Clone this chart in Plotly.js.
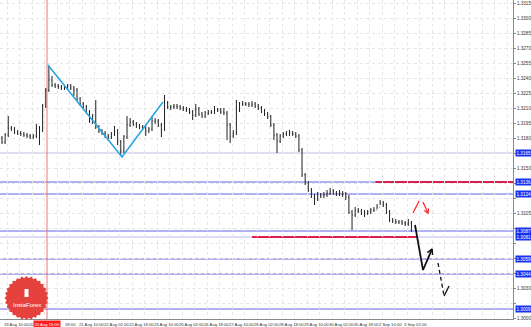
<!DOCTYPE html>
<html><head><meta charset="utf-8">
<script src="https://cdn.plot.ly/plotly-3.0.1.min.js"></script>
<style>html,body{margin:0;padding:0;background:#fff;}#chart{width:531px;height:327px;}</style>
</head><body><div id="chart"></div>
<script>
// ---- data (H1 chart, one bar kept every 2 hours) ----
const barOpen = [1.3180,1.3176,1.3183,1.3190,1.3189,1.3186,1.3185,1.3184,1.3183,1.3182,
1.3181,1.3182,1.3190,1.3188,1.3212,1.3228,1.3238,1.3233,1.3232,1.3231,
1.3230,1.3230,1.3232,1.3230,1.3228,1.3219,1.3214,1.3211,1.3206,1.3197,
1.3197,1.3191,1.3187,1.3185,1.3182,1.3181,1.3184,1.3187,1.3176,1.3167,
1.3181,1.3193,1.3196,1.3194,1.3192,1.3191,1.3190,1.3187,1.3189,1.3197,
1.3197,1.3193,1.3189,1.3215,1.3211,1.3211,1.3212,1.3211,1.3210,1.3209,
1.3208,1.3206,1.3203,1.3209,1.3204,1.3202,1.3205,1.3206,1.3206,1.3208,
1.3208,1.3206,1.3205,1.3193,1.3182,1.3185,1.3208,1.3214,1.3214,1.3214,
1.3213,1.3214,1.3212,1.3210,1.3207,1.3204,1.3201,1.3193,1.3183,1.3177,
1.3182,1.3184,1.3185,1.3185,1.3184,1.3182,1.3168,1.3143,1.3135,1.3128,
1.3122,1.3119,1.3123,1.3122,1.3123,1.3125,1.3127,1.3125,1.3124,1.3125,
1.3124,1.3121,1.3106,1.3103,1.3108,1.3107,1.3106,1.3105,1.3106,1.3108,
1.3108,1.3111,1.3115,1.3113,1.3106,1.3098,1.3097,1.3096,1.3096,1.3095,
1.3094,1.3095];
const barHigh = [1.3182,1.3185,1.3202,1.3192,1.3191,1.3188,1.3187,1.3186,1.3185,1.3184,
1.3184,1.3194,1.3192,1.3214,1.3230,1.3252,1.3242,1.3235,1.3234,1.3233,
1.3232,1.3234,1.3234,1.3232,1.3230,1.3221,1.3216,1.3213,1.3208,1.3204,
1.3218,1.3193,1.3189,1.3187,1.3184,1.3186,1.3192,1.3189,1.3178,1.3183,
1.3202,1.3200,1.3198,1.3196,1.3194,1.3193,1.3192,1.3191,1.3202,1.3200,
1.3199,1.3195,1.3223,1.3217,1.3213,1.3214,1.3214,1.3213,1.3212,1.3211,
1.3210,1.3208,1.3214,1.3211,1.3206,1.3207,1.3208,1.3208,1.3212,1.3210,
1.3210,1.3210,1.3207,1.3195,1.3188,1.3218,1.3216,1.3217,1.3216,1.3216,
1.3217,1.3216,1.3214,1.3212,1.3209,1.3206,1.3203,1.3195,1.3185,1.3184,
1.3186,1.3187,1.3188,1.3187,1.3186,1.3184,1.3170,1.3145,1.3137,1.3130,
1.3124,1.3126,1.3125,1.3126,1.3128,1.3130,1.3129,1.3127,1.3128,1.3127,
1.3126,1.3123,1.3108,1.3111,1.3110,1.3109,1.3108,1.3108,1.3110,1.3111,
1.3114,1.3118,1.3117,1.3115,1.3108,1.3100,1.3099,1.3098,1.3098,1.3097,
1.3099,1.3097];
const barLow = [1.3174,1.3174,1.3181,1.3187,1.3184,1.3183,1.3182,1.3181,1.3180,1.3179,
1.3179,1.3180,1.3173,1.3186,1.3210,1.3226,1.3231,1.3230,1.3229,1.3228,
1.3228,1.3228,1.3228,1.3222,1.3217,1.3212,1.3209,1.3204,1.3195,1.3194,
1.3189,1.3185,1.3183,1.3180,1.3179,1.3179,1.3182,1.3173,1.3162,1.3165,
1.3179,1.3191,1.3192,1.3190,1.3189,1.3188,1.3182,1.3185,1.3187,1.3194,
1.3191,1.3181,1.3187,1.3209,1.3208,1.3209,1.3209,1.3208,1.3207,1.3206,
1.3204,1.3198,1.3201,1.3202,1.3200,1.3200,1.3203,1.3204,1.3204,1.3206,
1.3204,1.3203,1.3178,1.3175,1.3180,1.3183,1.3206,1.3212,1.3212,1.3211,
1.3211,1.3210,1.3208,1.3205,1.3202,1.3199,1.3191,1.3178,1.3165,1.3175,
1.3180,1.3182,1.3182,1.3182,1.3180,1.3166,1.3141,1.3133,1.3126,1.3120,
1.3113,1.3117,1.3120,1.3120,1.3121,1.3123,1.3123,1.3122,1.3122,1.3121,
1.3118,1.3104,1.3088,1.3101,1.3105,1.3103,1.3101,1.3103,1.3104,1.3106,
1.3109,1.3113,1.3111,1.3104,1.3096,1.3095,1.3094,1.3094,1.3093,1.3092,
1.3092,1.3086];
const barClose = [1.3176,1.3183,1.3190,1.3189,1.3186,1.3185,1.3184,1.3183,1.3182,1.3181,
1.3182,1.3190,1.3188,1.3212,1.3228,1.3238,1.3233,1.3232,1.3231,1.3230,
1.3230,1.3232,1.3230,1.3228,1.3219,1.3214,1.3211,1.3206,1.3197,1.3197,
1.3191,1.3187,1.3185,1.3182,1.3181,1.3184,1.3187,1.3176,1.3167,1.3181,
1.3193,1.3196,1.3194,1.3192,1.3191,1.3190,1.3187,1.3189,1.3197,1.3197,
1.3193,1.3189,1.3215,1.3211,1.3211,1.3212,1.3211,1.3210,1.3209,1.3208,
1.3206,1.3203,1.3209,1.3204,1.3202,1.3205,1.3206,1.3206,1.3208,1.3208,
1.3206,1.3205,1.3193,1.3182,1.3185,1.3208,1.3214,1.3214,1.3214,1.3213,
1.3214,1.3212,1.3210,1.3207,1.3204,1.3201,1.3193,1.3183,1.3177,1.3182,
1.3184,1.3185,1.3185,1.3184,1.3182,1.3168,1.3143,1.3135,1.3128,1.3122,
1.3119,1.3123,1.3122,1.3123,1.3125,1.3127,1.3125,1.3124,1.3125,1.3124,
1.3121,1.3106,1.3103,1.3108,1.3107,1.3106,1.3105,1.3106,1.3108,1.3108,
1.3111,1.3115,1.3113,1.3106,1.3098,1.3097,1.3096,1.3096,1.3095,1.3094,
1.3095,1.3091];
const hoursPerBar = 2;
const timeLabels = ["19 Aug 10:00","20 Aug 02:00","20 Aug 18:00","21 Aug 10:00","22 Aug 02:00","22 Aug 18:00",
 "23 Aug 10:00","26 Aug 02:00","26 Aug 18:00","27 Aug 10:00","28 Aug 02:00","28 Aug 18:00",
 "29 Aug 10:00","30 Aug 02:00","30 Aug 18:00","2 Sep 10:00","3 Sep 02:00"];
const hoursPerLabel = 16;
const levelPrices = [1.3165,1.3136,1.3124,1.3087,1.3081,1.3059,1.3044,1.3009];
const levelPale   = [true,false,false,false,true,false,false,false];
const redLevelPrice = [1.3136,1.3081];
const redLevelStart = [239,160];
const redLevelEnd   = [327,266];
const crossBar = 28.8, crossLabel = "20 Aug 15:00";
const trendX = [29.4,76.8,103.0], trendY = [1.3253,1.3161,1.3216];
const blackArrowX = [264.3,269.4,275.2], blackArrowY = [1.3093,1.3048,1.3069];
const dashArrowX = [279.0,282.9], dashArrowY = [1.3055,1.3022];
const dashTailX = [282.9,286.1], dashTailY = [1.3022,1.3032];
const redUpX = [263.0,266.9], redUpY = [1.3105,1.3117];
const redDownX = [269.4,272.6], redDownY = [1.3116,1.3105];

// ---- geometry ----
const W = 513, H = 319;
const xr = [-1.28, 327], yr = [1.2999, 1.3318];
const sx = W/(xr[1]-xr[0]), sy = H/(yr[1]-yr[0]);
function head(x0,y0,x1,y1,len,ang){
  const dx=(x1-x0)*sx, dy=-(y1-y0)*sy, L=Math.hypot(dx,dy), ux=dx/L, uy=dy/L;
  const p=[];
  [1,-1].forEach(s=>{const a=s*ang;const rx=ux*Math.cos(a)-uy*Math.sin(a), ry=ux*Math.sin(a)+uy*Math.cos(a);
    p.push([x1-rx*len/sx, y1+ry*len/sy]);});
  return {x:[p[0][0],x1,p[1][0]], y:[p[0][1],y1,p[1][1]]};
}
const barX = barClose.map((_,k)=>k*hoursPerBar);
const yTicks=[]; for(let v=1.3000; v<1.3318; v+=0.0015) yTicks.push(+v.toFixed(4));
// tick labels hidden behind the blue level boxes (as on the reference)
const yTickText = yTicks.map(v => levelPrices.some(p=>Math.abs(p-v)*sy < 6.5) ? '' : v.toFixed(4));
const gridX=[]; for(let v=3.2; v<xr[1]; v+=8) gridX.push(v);

const traces = [
 {type:'ohlc', x:barX, open:barOpen, high:barHigh, low:barLow, close:barClose,
  increasing:{line:{color:'#222',width:1}}, decreasing:{line:{color:'#222',width:1}},
  tickwidth:0.2, hoverinfo:'skip', showlegend:false},
 {type:'scatter', mode:'lines', x:trendX, y:trendY, line:{color:'#2aa6e0',width:1.6}, hoverinfo:'skip', showlegend:false},
 {type:'scatter', mode:'lines', x:blackArrowX, y:blackArrowY, line:{color:'#111',width:1.8}, hoverinfo:'skip', showlegend:false},
 Object.assign({type:'scatter', mode:'lines', line:{color:'#111',width:1.5}, hoverinfo:'skip', showlegend:false},
   head(blackArrowX[1],blackArrowY[1],blackArrowX[2],blackArrowY[2],6,0.5)),
 {type:'scatter', mode:'lines', x:dashArrowX, y:dashArrowY, line:{color:'#111',width:1.3,dash:'4px,3px'}, hoverinfo:'skip', showlegend:false},
 {type:'scatter', mode:'lines', x:dashTailX, y:dashTailY, line:{color:'#111',width:1.3}, hoverinfo:'skip', showlegend:false},
 {type:'scatter', mode:'lines', x:redUpX, y:redUpY, line:{color:'#ff2b2b',width:1.3}, hoverinfo:'skip', showlegend:false},
 {type:'scatter', mode:'lines', x:redDownX, y:redDownY, line:{color:'#ff2b2b',width:1.3}, hoverinfo:'skip', showlegend:false},
 Object.assign({type:'scatter', mode:'lines', line:{color:'#ff2b2b',width:1.3}, hoverinfo:'skip', showlegend:false},
   head(redDownX[0],redDownY[0],redDownX[1],redDownY[1],4.5,0.55))
];

const shapes = [];
levelPrices.forEach((p,i)=>shapes.push({type:'line', xref:'paper', x0:0, x1:1, yref:'y', y0:p, y1:p,
  line:{color: levelPale[i] ? '#b9b9f3' : '#6565e6', width:1.2}, layer:'below'}));
redLevelPrice.forEach((p,i)=>shapes.push({type:'line', xref:'x', x0:redLevelStart[i], x1:redLevelEnd[i], yref:'y', y0:p, y1:p,
  line:{color:'#d9204c', width:2}, layer:'below'}));
shapes.push({type:'line', xref:'x', x0:crossBar, x1:crossBar, yref:'paper', y0:0, y1:1, line:{color:'#f07474',width:1}, layer:'below'});
// logo starburst
(function(){
  const cx=26.5, cy=298, ro=22, ri=20, n=28; let d='';
  for(let k=0;k<2*n;k++){const r=k%2?ri:ro, a=Math.PI*k/n;
    const px=cx+r*Math.cos(a), py=cy+r*Math.sin(a);
    d+=(k?'L':'M')+(px/W).toFixed(5)+','+(1-py/H).toFixed(5);}
  shapes.push({type:'path', xref:'paper', yref:'paper', path:d+'Z', fillcolor:'#e5423e', line:{width:0}, layer:'above'});
  shapes.push({type:'rect', xref:'paper', yref:'paper', x0:24.5/W, x1:28.5/W, y0:1-297/H, y1:1-289/H,
    fillcolor:'#ffffff', line:{width:0}, layer:'above'});
})();

const annotations = [];
// visible parts of the two labels partly covered by the crosshair date box
const shownLabel = timeLabels.map((t,k)=> k===1 ? t.split(' ')[0] : (k===2 ? t.split(' ')[2] : t));
const labelShift = timeLabels.map((t,k)=> k===2 ? 11 : 0);
timeLabels.forEach((t,k)=>annotations.push({xref:'x', x:k*hoursPerLabel, yref:'paper', y:0, xanchor:'left', yanchor:'top',
  xshift:labelShift[k], yshift:-0.5, text:shownLabel[k], showarrow:false, font:{family:'Liberation Sans, Arial', size:4.2, color:'#333'}}));
annotations.push({xref:'x', x:crossBar, yref:'paper', y:0, xanchor:'center', yanchor:'top', yshift:-0.5,
  text:crossLabel, showarrow:false, bgcolor:'#ff1c1c', borderpad:0.5, font:{family:'Liberation Sans, Arial', size:4.2, color:'#fff'}});
levelPrices.forEach(p=>annotations.push({xref:'paper', x:1, yref:'y', y:p, xanchor:'left', yanchor:'middle', xshift:2,
  text:p.toFixed(4), showarrow:false, bgcolor:'#1533f2', borderpad:0.5, font:{family:'Liberation Sans, Arial', size:4.6, color:'#fff'}}));
annotations.push({xref:'paper', x:26.5/W, yref:'paper', y:1-305/H, xanchor:'center', yanchor:'middle',
  text:'InstaForex', showarrow:false, font:{family:'Liberation Sans, Arial', size:6, color:'#fff'}});

const layout = {
  width:531, height:327, margin:{l:0,r:18,t:0,b:8}, paper_bgcolor:'#fff', plot_bgcolor:'#fff',
  showlegend:false, dragmode:false,
  xaxis:{range:xr, tickvals:gridX, showticklabels:false, ticks:'', showgrid:true, gridcolor:'#e6e6e6', griddash:'dot',
    gridwidth:1, zeroline:false, showline:true, linecolor:'#8a8a8a', linewidth:1, rangeslider:{visible:false}, fixedrange:true},
  yaxis:{range:yr, side:'right', tickvals:yTicks, ticktext:yTickText, showgrid:true, gridcolor:'#e6e6e6', griddash:'dot',
    zeroline:false, showline:true, linecolor:'#8a8a8a', linewidth:1, ticks:'outside', ticklen:2, tickcolor:'#8a8a8a',
    tickfont:{family:'Liberation Sans, Arial', size:4.6, color:'#333'}, fixedrange:true},
  shapes:shapes, annotations:annotations
};
Plotly.newPlot('chart', traces, layout, {staticPlot:true, displayModeBar:false});
</script></body></html>
